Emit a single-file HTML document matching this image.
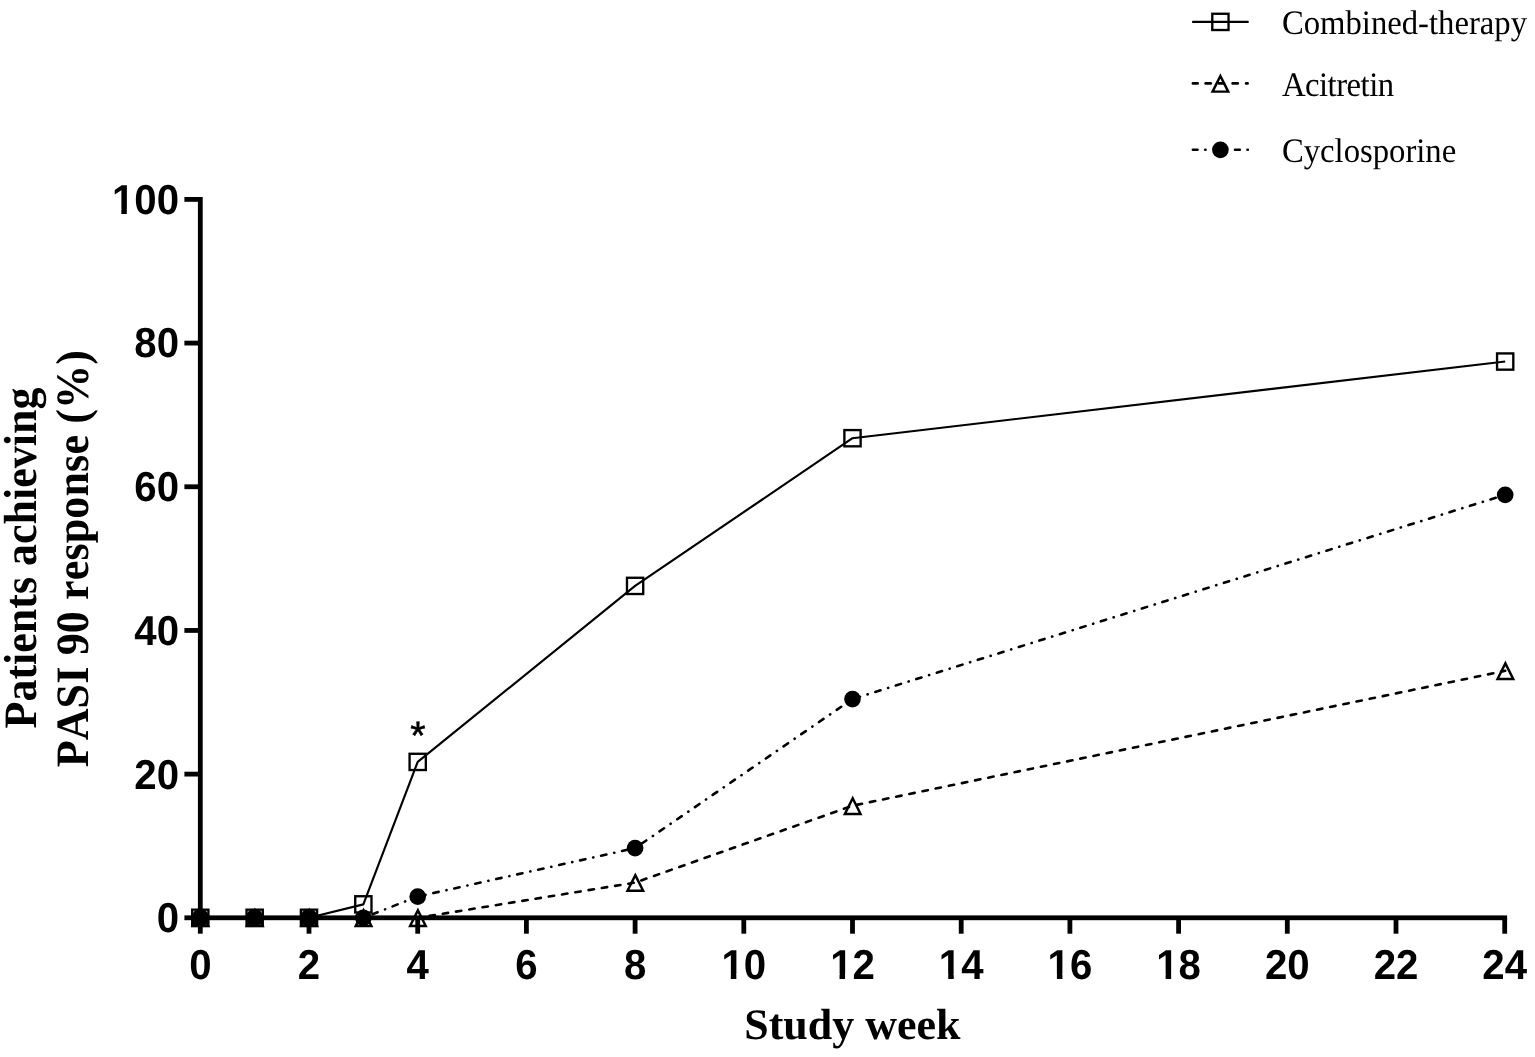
<!DOCTYPE html>
<html lang="en"><head><meta charset="utf-8"><title>PASI 90 response</title>
<style>
html,body{margin:0;padding:0;background:#fff;}
body{width:1535px;height:1057px;overflow:hidden;}
svg{display:block;}
text{font-kerning:none;text-rendering:geometricPrecision;}
.tk{font-family:"Liberation Sans",sans-serif;font-weight:bold;font-size:40.2px;fill:#000;}
.ttl{font-family:"Liberation Serif",serif;font-weight:bold;font-size:44px;fill:#000;}
.lg{font-family:"Liberation Serif",serif;font-size:32.7px;fill:#000;}
.st{font-family:"Liberation Sans",sans-serif;font-size:39.5px;fill:#000;stroke:#000;stroke-width:0.5px;}
</style></head><body>
<svg width="1535" height="1057" viewBox="0 0 1535 1057">
<rect width="1535" height="1057" fill="#fff"/>
<line x1="200.30" y1="917.80" x2="254.65" y2="917.80" stroke="#000" stroke-width="2.6" stroke-linecap="round" stroke-dasharray="5.458 7.972" stroke-dashoffset="-1.00"/>
<line x1="254.65" y1="917.80" x2="309.00" y2="917.80" stroke="#000" stroke-width="2.6" stroke-linecap="round" stroke-dasharray="5.458 7.972" stroke-dashoffset="-0.37"/>
<line x1="309.00" y1="917.80" x2="363.35" y2="917.80" stroke="#000" stroke-width="2.6" stroke-linecap="round" stroke-dasharray="5.458 7.972" stroke-dashoffset="0.26"/>
<line x1="363.35" y1="917.80" x2="417.70" y2="917.80" stroke="#000" stroke-width="2.6" stroke-linecap="round" stroke-dasharray="5.458 7.972" stroke-dashoffset="0.89"/>
<line x1="417.70" y1="917.80" x2="635.10" y2="882.60" stroke="#000" stroke-width="2.6" stroke-linecap="round" stroke-dasharray="5.458 7.972" stroke-dashoffset="1.52"/>
<line x1="635.10" y1="882.60" x2="852.50" y2="805.73" stroke="#000" stroke-width="2.6" stroke-linecap="round" stroke-dasharray="5.458 7.972" stroke-dashoffset="6.87"/>
<line x1="852.50" y1="805.73" x2="1505.19" y2="670.81" stroke="#000" stroke-width="2.6" stroke-linecap="round" stroke-dasharray="5.458 7.972" stroke-dashoffset="9.15"/>
<line x1="200.30" y1="917.80" x2="254.65" y2="917.80" stroke="#000" stroke-width="2.6" stroke-linecap="round" stroke-dasharray="5.458 7.915 0.2 7.915" stroke-dashoffset="-1.00"/>
<line x1="254.65" y1="917.80" x2="309.00" y2="917.80" stroke="#000" stroke-width="2.6" stroke-linecap="round" stroke-dasharray="5.458 7.915 0.2 7.915" stroke-dashoffset="10.37"/>
<line x1="309.00" y1="917.80" x2="363.35" y2="917.80" stroke="#000" stroke-width="2.6" stroke-linecap="round" stroke-dasharray="5.458 7.915 0.2 7.915" stroke-dashoffset="0.26"/>
<line x1="363.35" y1="917.80" x2="417.70" y2="896.54" stroke="#000" stroke-width="2.6" stroke-linecap="round" stroke-dasharray="5.458 7.915 0.2 7.915" stroke-dashoffset="11.63"/>
<line x1="417.70" y1="896.54" x2="635.10" y2="848.12" stroke="#000" stroke-width="2.6" stroke-linecap="round" stroke-dasharray="5.458 7.915 0.2 7.915" stroke-dashoffset="5.53"/>
<line x1="635.10" y1="848.12" x2="852.50" y2="699.05" stroke="#000" stroke-width="2.6" stroke-linecap="round" stroke-dasharray="5.458 7.915 0.2 7.915" stroke-dashoffset="13.38"/>
<line x1="852.50" y1="699.05" x2="1505.19" y2="494.81" stroke="#000" stroke-width="2.6" stroke-linecap="round" stroke-dasharray="5.458 7.915 0.2 7.915" stroke-dashoffset="19.12"/>
<polyline points="200.30,917.80 254.65,917.80 309.00,917.80 363.35,904.37 417.70,761.91 635.10,585.90 852.50,438.20 1505.19,361.54" fill="none" stroke="#000" stroke-width="2.15" stroke-linejoin="round"/>
<polygon points="200.50,910.34 208.32,926.02 192.68,926.02" fill="none" stroke="#000" stroke-width="2.45" stroke-linejoin="miter" stroke-miterlimit="10"/>
<polygon points="254.85,910.34 262.67,926.02 247.03,926.02" fill="none" stroke="#000" stroke-width="2.45" stroke-linejoin="miter" stroke-miterlimit="10"/>
<polygon points="309.20,910.34 317.02,926.02 301.38,926.02" fill="none" stroke="#000" stroke-width="2.45" stroke-linejoin="miter" stroke-miterlimit="10"/>
<polygon points="363.55,910.34 371.37,926.02 355.73,926.02" fill="none" stroke="#000" stroke-width="2.45" stroke-linejoin="miter" stroke-miterlimit="10"/>
<polygon points="417.90,910.34 425.72,926.02 410.08,926.02" fill="none" stroke="#000" stroke-width="2.45" stroke-linejoin="miter" stroke-miterlimit="10"/>
<polygon points="635.30,875.14 643.12,890.82 627.48,890.82" fill="none" stroke="#000" stroke-width="2.45" stroke-linejoin="miter" stroke-miterlimit="10"/>
<polygon points="852.70,798.27 860.52,813.95 844.88,813.95" fill="none" stroke="#000" stroke-width="2.45" stroke-linejoin="miter" stroke-miterlimit="10"/>
<polygon points="1505.39,663.36 1513.21,679.04 1497.57,679.04" fill="none" stroke="#000" stroke-width="2.45" stroke-linejoin="miter" stroke-miterlimit="10"/>
<circle cx="200.30" cy="917.80" r="8.8" fill="#000"/>
<circle cx="254.65" cy="917.80" r="8.8" fill="#000"/>
<circle cx="309.00" cy="917.80" r="8.8" fill="#000"/>
<circle cx="363.35" cy="917.80" r="8.35" fill="#000"/>
<circle cx="417.70" cy="896.54" r="8.35" fill="#000"/>
<circle cx="635.10" cy="848.12" r="8.35" fill="#000"/>
<circle cx="852.50" cy="699.05" r="8.35" fill="#000"/>
<circle cx="1505.19" cy="494.81" r="8.35" fill="#000"/>
<rect x="192.18" y="909.67" width="16.25" height="16.25" fill="none" stroke="#000" stroke-width="2.35"/>
<rect x="246.53" y="909.67" width="16.25" height="16.25" fill="none" stroke="#000" stroke-width="2.35"/>
<rect x="300.88" y="909.67" width="16.25" height="16.25" fill="none" stroke="#000" stroke-width="2.35"/>
<rect x="355.23" y="896.24" width="16.25" height="16.25" fill="none" stroke="#000" stroke-width="2.35"/>
<rect x="409.58" y="753.78" width="16.25" height="16.25" fill="none" stroke="#000" stroke-width="2.35"/>
<rect x="626.98" y="577.77" width="16.25" height="16.25" fill="none" stroke="#000" stroke-width="2.35"/>
<rect x="844.38" y="430.07" width="16.25" height="16.25" fill="none" stroke="#000" stroke-width="2.35"/>
<rect x="1497.06" y="353.42" width="16.25" height="16.25" fill="none" stroke="#000" stroke-width="2.35"/>
<rect x="197.90" y="197.00" width="4.8" height="723.20" fill="#000"/>
<rect x="197.90" y="915.40" width="1309.20" height="4.8" fill="#000"/>
<rect x="184.40" y="915.40" width="15.9" height="4.8" fill="#000"/>
<text class="tk" transform="translate(179.00,932.20) scale(1,1.04)" text-anchor="end">0</text>
<rect x="184.40" y="771.72" width="15.9" height="4.8" fill="#000"/>
<text class="tk" transform="translate(179.00,788.52) scale(1,1.04)" text-anchor="end">20</text>
<rect x="184.40" y="628.04" width="15.9" height="4.8" fill="#000"/>
<text class="tk" transform="translate(179.00,644.84) scale(1,1.04)" text-anchor="end">40</text>
<rect x="184.40" y="484.36" width="15.9" height="4.8" fill="#000"/>
<text class="tk" transform="translate(179.00,501.16) scale(1,1.04)" text-anchor="end">60</text>
<rect x="184.40" y="340.68" width="15.9" height="4.8" fill="#000"/>
<text class="tk" transform="translate(179.00,357.48) scale(1,1.04)" text-anchor="end">80</text>
<rect x="184.40" y="197.00" width="15.9" height="4.8" fill="#000"/>
<text class="tk" transform="translate(179.00,213.80) scale(1,1.04)" text-anchor="end">100</text>
<rect x="113.660" y="209.03" width="7.650" height="5.47" fill="#fff"/>
<rect x="126.826" y="209.03" width="7.140" height="5.47" fill="#fff"/>
<rect x="197.90" y="917.80" width="4.8" height="15.9" fill="#000"/>
<text class="tk" transform="translate(200.30,978.6) scale(1,1.04)" text-anchor="middle">0</text>
<rect x="306.60" y="917.80" width="4.8" height="15.9" fill="#000"/>
<text class="tk" transform="translate(309.00,978.6) scale(1,1.04)" text-anchor="middle">2</text>
<rect x="415.30" y="917.80" width="4.8" height="15.9" fill="#000"/>
<text class="tk" transform="translate(417.70,978.6) scale(1,1.04)" text-anchor="middle">4</text>
<rect x="524.00" y="917.80" width="4.8" height="15.9" fill="#000"/>
<text class="tk" transform="translate(526.40,978.6) scale(1,1.04)" text-anchor="middle">6</text>
<rect x="632.70" y="917.80" width="4.8" height="15.9" fill="#000"/>
<text class="tk" transform="translate(635.10,978.6) scale(1,1.04)" text-anchor="middle">8</text>
<rect x="741.40" y="917.80" width="4.8" height="15.9" fill="#000"/>
<text class="tk" transform="translate(743.80,978.6) scale(1,1.04)" text-anchor="middle">10</text>
<rect x="723.175" y="973.83" width="7.650" height="5.47" fill="#fff"/>
<rect x="736.341" y="973.83" width="7.140" height="5.47" fill="#fff"/>
<rect x="850.10" y="917.80" width="4.8" height="15.9" fill="#000"/>
<text class="tk" transform="translate(852.50,978.6) scale(1,1.04)" text-anchor="middle">12</text>
<rect x="831.875" y="973.83" width="7.650" height="5.47" fill="#fff"/>
<rect x="845.041" y="973.83" width="7.140" height="5.47" fill="#fff"/>
<rect x="958.80" y="917.80" width="4.8" height="15.9" fill="#000"/>
<text class="tk" transform="translate(961.20,978.6) scale(1,1.04)" text-anchor="middle">14</text>
<rect x="940.575" y="973.83" width="7.650" height="5.47" fill="#fff"/>
<rect x="953.741" y="973.83" width="7.140" height="5.47" fill="#fff"/>
<rect x="1067.50" y="917.80" width="4.8" height="15.9" fill="#000"/>
<text class="tk" transform="translate(1069.90,978.6) scale(1,1.04)" text-anchor="middle">16</text>
<rect x="1049.275" y="973.83" width="7.650" height="5.47" fill="#fff"/>
<rect x="1062.441" y="973.83" width="7.140" height="5.47" fill="#fff"/>
<rect x="1176.20" y="917.80" width="4.8" height="15.9" fill="#000"/>
<text class="tk" transform="translate(1178.60,978.6) scale(1,1.04)" text-anchor="middle">18</text>
<rect x="1157.975" y="973.83" width="7.650" height="5.47" fill="#fff"/>
<rect x="1171.141" y="973.83" width="7.140" height="5.47" fill="#fff"/>
<rect x="1284.90" y="917.80" width="4.8" height="15.9" fill="#000"/>
<text class="tk" transform="translate(1287.30,978.6) scale(1,1.04)" text-anchor="middle">20</text>
<rect x="1393.60" y="917.80" width="4.8" height="15.9" fill="#000"/>
<text class="tk" transform="translate(1396.00,978.6) scale(1,1.04)" text-anchor="middle">22</text>
<rect x="1502.30" y="917.80" width="4.8" height="15.9" fill="#000"/>
<text class="tk" transform="translate(1504.70,978.6) scale(1,1.04)" text-anchor="middle">24</text>
<text class="ttl" transform="translate(852.4,1038.5) scale(1,0.99)" text-anchor="middle">Study week</text>
<text class="ttl" transform="translate(35.6,558) rotate(-90) scale(1,1.055)" text-anchor="middle">Patients achieving</text>
<text class="ttl" transform="translate(88.1,558.7) rotate(-90) scale(1,1.055)" text-anchor="middle" letter-spacing="0.15">PASI 90 response (%)</text>
<text class="st" x="418.00" y="749.3" text-anchor="middle">*</text>
<line x1="1193.0" y1="21.9" x2="1247.8" y2="21.9" stroke="#000" stroke-width="2.15" stroke-linecap="round"/>
<rect x="1212.28" y="13.77" width="16.25" height="16.25" fill="none" stroke="#000" stroke-width="2.35"/>
<text class="lg" transform="translate(1281.9,34.2) scale(1,1.05)">Combined-therapy</text>
<line x1="1192.90" y1="83.4" x2="1197.70" y2="83.4" stroke="#000" stroke-width="2.6" stroke-linecap="round"/>
<line x1="1205.60" y1="83.4" x2="1210.80" y2="83.4" stroke="#000" stroke-width="2.6" stroke-linecap="round"/>
<line x1="1219.00" y1="83.4" x2="1224.00" y2="83.4" stroke="#000" stroke-width="2.6" stroke-linecap="round"/>
<line x1="1232.60" y1="83.4" x2="1237.80" y2="83.4" stroke="#000" stroke-width="2.6" stroke-linecap="round"/>
<line x1="1246.10" y1="83.4" x2="1247.60" y2="83.4" stroke="#000" stroke-width="2.6" stroke-linecap="round"/>
<polygon points="1220.40,75.94 1228.22,91.63 1212.58,91.63" fill="none" stroke="#000" stroke-width="2.45" stroke-linejoin="miter" stroke-miterlimit="10"/>
<text class="lg" transform="translate(1281.9,95.7) scale(1,1.05)" letter-spacing="-0.5">Acitretin</text>
<line x1="1192.90" y1="149.8" x2="1197.50" y2="149.8" stroke="#000" stroke-width="2.6" stroke-linecap="round"/>
<line x1="1205.50" y1="149.8" x2="1205.20" y2="149.8" stroke="#000" stroke-width="2.6" stroke-linecap="round"/>
<line x1="1235.00" y1="149.8" x2="1239.80" y2="149.8" stroke="#000" stroke-width="2.6" stroke-linecap="round"/>
<line x1="1247.80" y1="149.8" x2="1247.50" y2="149.8" stroke="#000" stroke-width="2.6" stroke-linecap="round"/>
<circle cx="1220.40" cy="149.80" r="8.35" fill="#000"/>
<text class="lg" transform="translate(1281.9,161.7) scale(1,1.05)">Cyclosporine</text>
</svg></body></html>
